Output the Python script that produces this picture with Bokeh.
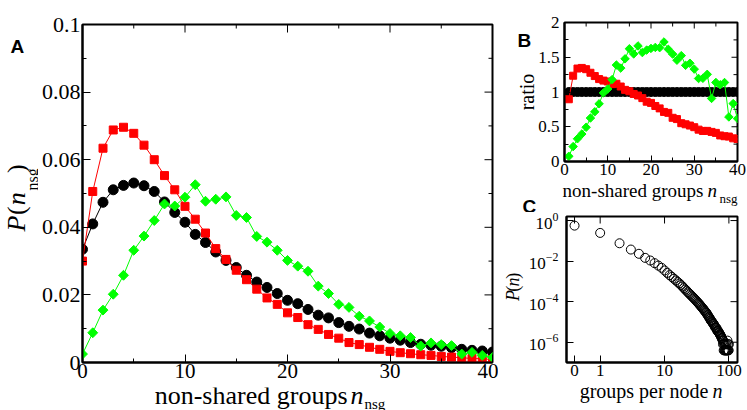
import math
import numpy as np
from bokeh.plotting import figure
from bokeh.models import Range1d, FixedTicker, Label
from bokeh.layouts import row, column
from bokeh.embed import file_html
from bokeh.resources import INLINE

SERIF = "Liberation Serif"
SANS = "Liberation Sans"
GREEN = "#00ff00"
RED = "#ff0000"

# ---------------- data ----------------
n_nsg = list(range(0, 41))
p_black = [0.0335, 0.0410, 0.0474, 0.0511, 0.0524, 0.0531, 0.0523, 0.0506, 0.0475, 0.0444,
           0.0415, 0.0379, 0.0355, 0.0327, 0.0302, 0.0281, 0.0258, 0.0238, 0.0222, 0.0204,
           0.0184, 0.0174, 0.0157, 0.0140, 0.0132, 0.0118, 0.0107, 0.0099, 0.0087, 0.0079,
           0.0072, 0.0066, 0.0059, 0.0054, 0.0051, 0.0048, 0.0044, 0.0039, 0.0036, 0.0034,
           0.0031]
p_red = [0.0300, 0.0506, 0.0634, 0.0688, 0.0696, 0.0678, 0.0643, 0.0600, 0.0553, 0.0511,
         0.0462, 0.0424, 0.0383, 0.0337, 0.0305, 0.0273, 0.0245, 0.0217, 0.0191, 0.0172,
         0.0147, 0.0133, 0.0112, 0.0098, 0.0083, 0.0072, 0.0059, 0.0053, 0.0045, 0.0039,
         0.0033, 0.0029, 0.0026, 0.0023, 0.0021, 0.0018, 0.0016, 0.0014, 0.0012, 0.0011,
         0.0009]
p_green = [0.0025, 0.0088, 0.0155, 0.0202, 0.0258, 0.0332, 0.0374, 0.0420, 0.0469, 0.0463,
           0.0489, 0.0526, 0.0477, 0.0483, 0.0490, 0.0435, 0.0429, 0.0373, 0.0356, 0.0332,
           0.0302, 0.0285, 0.0270, 0.0226, 0.0204, 0.0172, 0.0163, 0.0137, 0.0123, 0.0105,
           0.0086, 0.0079, 0.0074, 0.0049, 0.0058, 0.0053, 0.0050, 0.0025, 0.0030, 0.0021,
           0.0015]

groups_per_node = list(range(0, 101))
log10_p_groups = [-0.25, -0.61, -1.12, -1.43, -1.64, -1.84, -1.97, -2.10, -2.22, -2.33,
                  -2.46, -2.58, -2.69, -2.78, -2.87, -2.95, -3.03, -3.10, -3.18, -3.25,
                  -3.33, -3.40, -3.46, -3.53, -3.59, -3.64, -3.70, -3.75, -3.80, -3.85,
                  -3.90, -3.95, -4.00, -4.05, -4.09, -4.14, -4.19, -4.23, -4.28, -4.32,
                  -4.36, -4.41, -4.45, -4.49, -4.54, -4.56, -4.63, -4.67, -4.72, -4.76,
                  -4.80, -4.85, -4.92, -4.93, -4.97, -5.01, -5.05, -5.09, -5.10, -5.16,
                  -5.19, -5.26, -5.27, -5.30, -5.30, -5.37, -5.44, -5.43, -5.45, -5.50,
                  -5.53, -5.55, -5.60, -5.62, -5.66, -5.70, -5.72, -5.78, -5.80, -5.85,
                  -5.92, -6.10, -5.92, -6.40, -6.10, -6.40, -6.10, -6.40, -6.40, -6.10,
                  -6.40, -6.40, -6.10, -6.40, -6.40, -5.92, -6.40, -6.10, -6.40, -6.40,
                  -6.10]
ZERO_POS = 0.4   # where n = 0 is drawn on the logarithmic axis

A_X_TICKS, A_X_MINOR = [0, 10, 20, 30, 40], [5, 15, 25, 35]
A_Y_TICKS = [0, 0.02, 0.04, 0.06, 0.08, 0.1]
A_Y_MINOR = [0.01, 0.03, 0.05, 0.07, 0.09]
A_Y_LABELS = ["0", "0.02", "0.04", "0.06", "0.08", "0.1"]
B_X_TICKS, B_X_MINOR = [0, 10, 20, 30, 40], [5, 15, 25, 35]
B_Y_TICKS, B_Y_MINOR = [0, 0.5, 1, 1.5, 2], [0.25, 0.75, 1.25, 1.75]
B_Y_LABELS = ["0", "0.5", "1", "1.5", "2"]
C_X_TICKS = [ZERO_POS, 1, 10, 100]
C_X_LABELS = ["0", "1", "10", "100"]
C_Y_TICKS = [1, 1e-2, 1e-4, 1e-6]

A_XR, A_YR = (0, 40), (0, 0.1)
B_XR, B_YR = (0, 40), (0, 2)
C_XR, C_YR = (0.3, 136), (1e-7, 10 ** 0.2)


# ---------------- helpers ----------------
def make_panel(size, frame, xr, yr, xlog=False, ylog=False):
    w, h = size
    l, t, r, b = frame
    p = figure(width=w, height=h, x_range=Range1d(*xr), y_range=Range1d(*yr),
               x_axis_type="log" if xlog else "linear",
               y_axis_type="log" if ylog else "linear", title=None,
               min_border_left=l, min_border_top=t,
               min_border_right=w - r, min_border_bottom=h - b,
               output_backend="svg", toolbar_location=None)
    p.xgrid.visible = False
    p.ygrid.visible = False
    p.outline_line_color = "black"
    p.outline_line_width = 2
    p.border_fill_color = "white"
    return p


def style_axes(p, xr, yr, xt, xm, yt, ym, major_len, minor_len, xfont, yfont,
               xstand, ystand, xlabels=None, ylabels=None):
    xa, ya = p.below[0], p.left[0]
    xa.ticker = FixedTicker(ticks=xt, minor_ticks=xm)
    ya.ticker = FixedTicker(ticks=yt, minor_ticks=ym)
    for ax, fs in ((xa, xfont), (ya, yfont)):
        ax.axis_line_width = 2
        ax.axis_line_color = "black"
        ax.major_tick_in = major_len
        ax.major_tick_out = 0
        ax.minor_tick_in = minor_len
        ax.minor_tick_out = 0
        ax.major_tick_line_color = "black"
        ax.minor_tick_line_color = "black"
        ax.major_label_text_font = SERIF
        ax.major_label_text_font_size = f"{fs}px"
        ax.major_label_text_color = "black"
    xa.major_label_standoff = xstand
    ya.major_label_standoff = ystand
    if xlabels is not None:
        xa.major_label_overrides = dict(zip(xt, xlabels))
    if ylabels is not None:
        ya.major_label_overrides = dict(zip(yt, ylabels))
    # mirrored inward ticks on the top and right edges of the frame
    for ticks, length in ((xt, major_len), (xm, minor_len)):
        if ticks:
            p.scatter(ticks, [yr[1]] * len(ticks), marker="dash", angle=math.pi / 2,
                      size=2 * length, line_color="black", line_width=1)
    for ticks, length in ((yt, major_len), (ym, minor_len)):
        if ticks:
            p.scatter([xr[1]] * len(ticks), ticks, marker="dash", angle=0,
                      size=2 * length, line_color="black", line_width=1)


def strip(origin, size):
    w, h = size
    s = figure(width=w, height=h, x_range=Range1d(0, w), y_range=Range1d(0, h),
               x_axis_location=None, y_axis_location=None, title=None,
               min_border=0, min_border_left=0, min_border_right=0,
               min_border_top=0, min_border_bottom=0,
               output_backend="svg", toolbar_location=None)
    s.xgrid.visible = False
    s.ygrid.visible = False
    s.outline_line_color = None
    s.border_fill_color = "white"
    s.background_fill_color = "white"
    return s, origin, size


BASE_SHIFT = 0.34   # measured offset of the rendered baseline, in font sizes


def text(st, px, py, txt, size, font=SERIF, style="normal", align="left", angle=0.0):
    s, (ox, oy), (w, h) = st
    if angle == 0:
        py = py - BASE_SHIFT * size
    else:
        px = px - BASE_SHIFT * size
    s.add_layout(Label(x=px - ox, y=h - (py - oy), text=txt, text_font=font,
                       text_font_size=f"{size}px", text_font_style=style,
                       text_align=align, text_baseline="alphabetic",
                       angle=angle, text_color="black"))


V = math.pi / 2

# ---------------- panel A ----------------
pA = make_panel((460, 387), (41, 24, 454, 362), A_XR, A_YR)
style_axes(pA, A_XR, A_YR, A_X_TICKS, A_X_MINOR, A_Y_TICKS, A_Y_MINOR, 8, 4, 21, 22, 1, 2,
           ylabels=A_Y_LABELS)
pA.line(n_nsg, p_black, line_color="black", line_width=1)
pA.scatter(n_nsg, p_black, marker="circle", size=10, fill_color="black", line_color="black")
pA.line(n_nsg, p_red, line_color=RED, line_width=1)
pA.scatter(n_nsg, p_red, marker="square", size=8, fill_color=RED, line_color=RED)
pA.line(n_nsg, p_green, line_color=GREEN, line_width=1)
pA.scatter(n_nsg, p_green, marker="square", angle=math.pi / 4, size=7,
           fill_color=GREEN, line_color=GREEN)

sAy = strip((0, 0), (38, 387))
text(sAy, 10, 32, "A", 19, font=SANS, style="bold")
text(sAy, 25, 237, "P", 26, style="italic", angle=V)
text(sAy, 25, 218, "(", 26, angle=V)
text(sAy, 25, 207, "n", 26, style="italic", angle=V)
text(sAy, 37, 190, "nsg", 16, angle=V)
text(sAy, 25, 170, ")", 26, angle=V)

sAx = strip((0, 387), (498, 23))
text(sAx, 347, 404, "non-shared groups", 26, align="right")
text(sAx, 350, 404, "n", 26, style="italic")
text(sAx, 364, 409, "nsg", 15)

# ---------------- panel B ----------------
black = np.array(p_black)
ratio_x = np.array(n_nsg) + 1
ratio_black = black / black
ratio_red = np.array(p_red) / black
ratio_green = np.array(p_green) / black

pB = make_panel((212, 182), (29, 22, 202, 161), B_XR, B_YR)
style_axes(pB, B_XR, B_YR, B_X_TICKS, B_X_MINOR, B_Y_TICKS, B_Y_MINOR, 6, 4, 17, 17, 2, 5,
           ylabels=B_Y_LABELS)
pB.line(ratio_x, ratio_black, line_color="black", line_width=1)
pB.scatter(ratio_x, ratio_black, marker="circle", size=9, fill_color="black", line_color="black")
pB.line(ratio_x, ratio_red, line_color=RED, line_width=1)
pB.scatter(ratio_x, ratio_red, marker="square", size=7, fill_color=RED, line_color=RED)
pB.line(ratio_x, ratio_green, line_color=GREEN, line_width=1)
pB.scatter(ratio_x, ratio_green, marker="square", angle=math.pi / 4, size=6,
           fill_color=GREEN, line_color=GREEN)

sBy = strip((498, 0), (37, 182))
text(sBy, 517, 30, "B", 19, font=SANS, style="bold")
text(sBy, 533, 91, "ratio", 20, align="center", angle=V)

sBx = strip((498, 182), (249, 30))
text(sBx, 703, 196, "non-shared groups", 19, align="right")
text(sBx, 707, 196, "n", 19, style="italic")
text(sBx, 719, 202, "nsg", 13)
text(sBx, 522, 212, "C", 19, font=SANS, style="bold")

# ---------------- panel C ----------------
pC = make_panel((222, 171), (39, 4, 212, 150), C_XR, C_YR, xlog=True, ylog=True)
style_axes(pC, C_XR, C_YR, C_X_TICKS, [], C_Y_TICKS, [], 7, 4, 17, 17, 2, 8,
           xlabels=C_X_LABELS)
c_x = [ZERO_POS if n == 0 else n for n in groups_per_node]
c_y = [10 ** e for e in log10_p_groups]
pC.scatter(c_x, c_y, marker="circle", size=9, fill_color=None, line_color="black",
           line_width=1)

sCy = strip((498, 212), (27, 171))
text(sCy, 519, 311, "P", 18, style="italic", angle=V)
text(sCy, 519, 300, "(", 18, angle=V)
text(sCy, 519, 294, "n", 18, style="italic", angle=V)
text(sCy, 519, 285, ")", 18, angle=V)

sCx = strip((498, 383), (249, 27))
text(sCx, 708, 397, "groups per node", 20, align="right")
text(sCx, 712, 397, "n", 20, style="italic")

left_block = column(row(sAy[0], pA, spacing=0), sAx[0], spacing=0)
right_block = column(row(sBy[0], pB, spacing=0), sBx[0],
                     row(sCy[0], pC, spacing=0), sCx[0], spacing=0)
layout = row(left_block, right_block, spacing=0)
open("out.html", "w").write(file_html(layout, INLINE))
